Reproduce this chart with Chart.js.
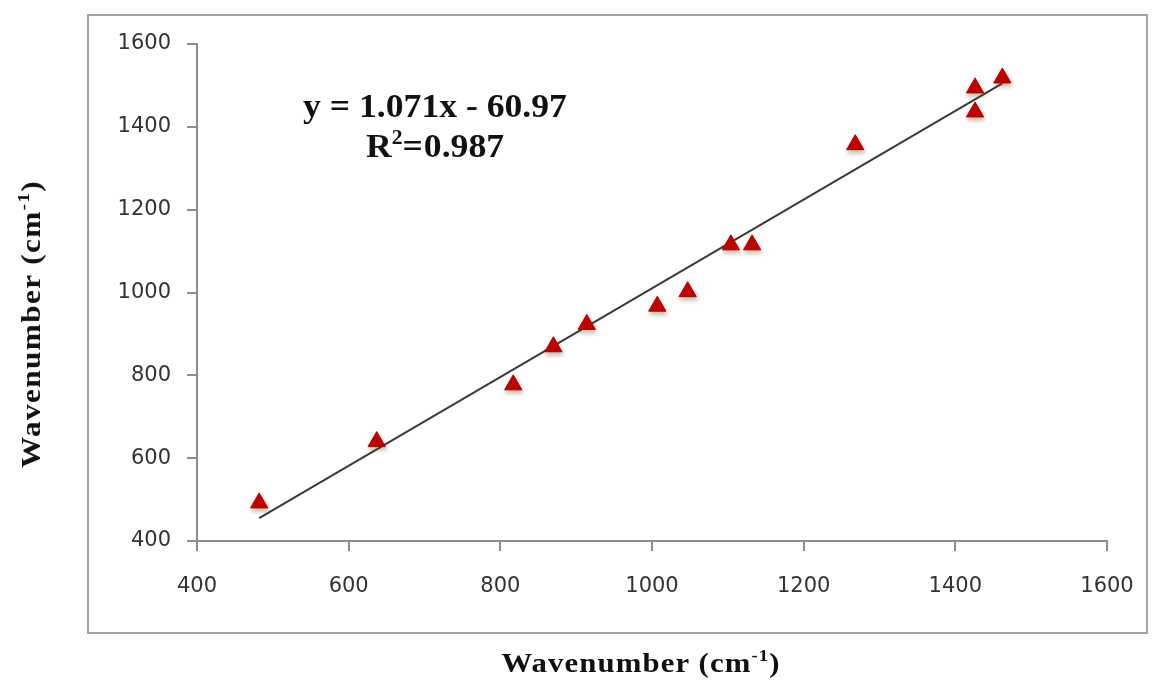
<!DOCTYPE html>
<html>
<head>
<meta charset="utf-8">
<script src="https://cdn.jsdelivr.net/npm/chart.js@4.4.0/dist/chart.umd.min.js"></script>
<style>
  html, body { margin: 0; padding: 0; background: #fff; }
  #wrap { position: relative; width: 1157px; height: 690px; overflow: hidden; }
  #c { position: absolute; left: 0; top: 0; }
  .frame { position: absolute; left: 87px; top: 14px; width: 1057px; height: 616px;
           border: 2px solid #a6a6a6; pointer-events: none; }
  .serif { font-family: 'Liberation Serif', 'Times New Roman', serif; font-weight: bold; color: #111; white-space: nowrap; }
  #eq { position: absolute; left: 435px; top: 86px; transform: translateX(-50%) scaleX(1.08); font-size: 33px;
        line-height: 40px; text-align: center; }
  #eq sup { font-size: 20px; vertical-align: 0; position: relative; top: -13px; }
  #xt { position: absolute; left: 641px; top: 648px; transform: translateX(-50%) scaleX(1.1); font-size: 28px; line-height: 30px; letter-spacing: 1px; }
  #yt { position: absolute; left: 33px; top: 324px; transform: translate(-50%, -50%) rotate(-90deg) scaleX(1.12); font-size: 28px; line-height: 30px; letter-spacing: 1.2px; }
  sup.s { font-size: 17px; vertical-align: 0; position: relative; top: -11px; }
</style>
</head>
<body>
<div id="wrap">
  <canvas id="c" width="1157" height="690"></canvas>
  <div class="frame"></div>
  <div id="eq" class="serif">y = 1.071x - 60.97<br>R<sup>2</sup>=<span style="margin-left:1px">0.987</span></div>
  <div id="xt" class="serif">Wavenumber (cm<sup class="s">-1</sup>)</div>
  <div id="yt" class="serif">Wavenumber (cm<sup class="s">-1</sup>)</div>
</div>
<script>
// Data
const xValues = [482, 637, 817, 870, 914, 1007, 1047, 1104, 1132, 1268, 1426, 1426, 1462];
const yValues = [492, 640, 777, 869, 923, 967, 1002, 1115, 1115, 1357, 1494, 1436, 1518];
// Trend line end points as drawn in the picture
const trendX = [482, 1462];
const trendY = [455, 1505];
// Axis ticks
const xTicks = [400, 600, 800, 1000, 1200, 1400, 1600];
const yTicks = [400, 600, 800, 1000, 1200, 1400, 1600];

const points = xValues.map((x, i) => ({ x: x, y: yValues[i] }));
const trend = trendX.map((x, i) => ({ x: x, y: trendY[i] }));

const shadowPlugin = {
  id: 'markerShadow',
  beforeDatasetDraw(chart, args) {
    if (args.index === 1) {
      const ctx = chart.ctx;
      ctx.save();
      ctx.shadowColor = 'rgba(120,60,0,0.35)';
      ctx.shadowBlur = 4;
      ctx.shadowOffsetX = 1;
      ctx.shadowOffsetY = 3;
    }
  },
  afterDatasetDraw(chart, args) {
    if (args.index === 1) chart.ctx.restore();
  }
};

const axisCommon = {
  type: 'linear',
  min: 400,
  max: 1600,
  grid: { drawOnChartArea: false, drawTicks: true, tickLength: 10, color: '#8c8c8c', lineWidth: 2 },
  border: { display: true, color: '#8c8c8c', width: 2 },
};
const tickFont = { family: 'DejaVu Sans', size: 21 };
const plain = v => String(v);

new Chart(document.getElementById('c'), {
  type: 'scatter',
  data: {
    datasets: [
      {
        type: 'line',
        data: trend,
        borderColor: '#3a3a3a',
        borderWidth: 2,
        pointRadius: 0,
        fill: false,
        order: 2
      },
      {
        type: 'scatter',
        data: points,
        pointStyle: 'triangle',
        pointRadius: 10,
        pointBackgroundColor: '#c00000',
        pointBorderColor: '#b00000',
        pointBorderWidth: 1,
        order: 1
      }
    ]
  },
  plugins: [shadowPlugin],
  options: {
    responsive: false,
    devicePixelRatio: 1,
    animation: false,
    events: [],
    layout: { padding: { left: 0, top: 44, right: 50, bottom: 0 } },
    plugins: { legend: { display: false }, tooltip: { enabled: false } },
    scales: {
      x: Object.assign({}, axisCommon, {
        position: 'bottom',
        afterBuildTicks(s) { s.ticks = xTicks.map(v => ({ value: v })); },
        afterFit(s) { s.height = 149; },
        ticks: { color: '#333', font: tickFont, padding: 23, maxRotation: 0, callback: plain }
      }),
      y: Object.assign({}, axisCommon, {
        position: 'left',
        afterBuildTicks(s) { s.ticks = yTicks.map(v => ({ value: v })); },
        afterFit(s) { s.width = 197; },
        ticks: { color: '#333', font: tickFont, padding: 16, callback: plain }
      })
    }
  }
});
</script>
</body>
</html>
